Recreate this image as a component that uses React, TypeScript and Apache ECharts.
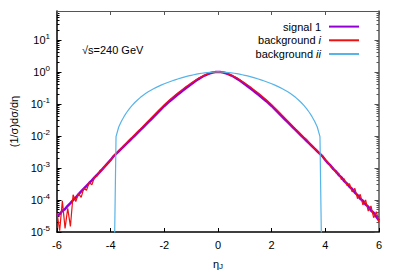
import React, { useEffect, useRef } from "react";
import * as echarts from "echarts";

const ETA = [
  -6.0, -5.9, -5.8, -5.7, -5.6, -5.5, -5.4, -5.3, -5.2, -5.1, -5.0, -4.9, -4.8, -4.7, -4.6, -4.5, -4.4, -4.3, -4.2, -4.1,
  -4.0, -3.9, -3.8, -3.7, -3.6, -3.5, -3.4, -3.3, -3.2, -3.1, -3.0, -2.9, -2.8, -2.7, -2.6, -2.5, -2.4, -2.3, -2.2, -2.1,
  -2.0, -1.9, -1.8, -1.7, -1.6, -1.5, -1.4, -1.3, -1.2, -1.1, -1.0, -0.9, -0.8, -0.7, -0.6, -0.5, -0.4, -0.3, -0.2, -0.1,
  0.0, 0.1, 0.2, 0.3, 0.4, 0.5, 0.6, 0.7, 0.8, 0.9, 1.0, 1.1, 1.2, 1.3, 1.4, 1.5, 1.6, 1.7, 1.8, 1.9,
  2.0, 2.1, 2.2, 2.3, 2.4, 2.5, 2.6, 2.7, 2.8, 2.9, 3.0, 3.1, 3.2, 3.3, 3.4, 3.5, 3.6, 3.7, 3.8, 3.9,
  4.0, 4.1, 4.2, 4.3, 4.4, 4.5, 4.6, 4.7, 4.8, 4.9, 5.0, 5.1, 5.2, 5.3, 5.4, 5.5, 5.6, 5.7, 5.8, 5.9, 6.0,
];

// signal 1
const SIGNAL = [
  3.2e-5, 3.6e-5, 4.6e-5, 5.2e-5, 6.6e-5, 8.0e-5, 1.0e-4, 1.2e-4, 1.5e-4, 1.85e-4, 2.25e-4, 2.75e-4, 3.4e-4, 4.1e-4, 5.1e-4, 6.2e-4, 7.6e-4, 9.4e-4, 1.16e-3, 1.44e-3,
  1.78e-3, 0.00229, 0.00276, 0.00333, 0.00402, 0.00485, 0.00586, 0.00708, 0.00856, 0.0103, 0.0124, 0.0151, 0.0183, 0.0222, 0.0269, 0.0326, 0.0397, 0.0482, 0.0585, 0.0712,
  0.0865, 0.103, 0.122, 0.143, 0.168, 0.197, 0.229, 0.266, 0.309, 0.357, 0.413, 0.476, 0.548, 0.62, 0.695, 0.772, 0.842, 0.905, 0.955, 0.987,
  1.0, 0.987, 0.955, 0.905, 0.842, 0.772, 0.695, 0.62, 0.548, 0.476, 0.413, 0.357, 0.309, 0.266, 0.229, 0.197, 0.168, 0.143, 0.122, 0.103,
  0.0865, 0.0712, 0.0585, 0.0482, 0.0397, 0.0326, 0.0269, 0.0222, 0.0183, 0.0151, 0.0124, 0.0103, 0.00856, 0.00708, 0.00586, 0.00485, 0.00402, 0.00333, 0.00276, 0.00229,
  1.78e-3, 1.42e-3, 1.18e-3, 9.2e-4, 7.8e-4, 6.0e-4, 5.1e-4, 3.9e-4, 3.3e-4, 2.6e-4, 2.2e-4, 1.7e-4, 1.42e-4, 1.1e-4, 9.5e-5, 7.2e-5, 6.2e-5, 4.7e-5, 4.0e-5, 3.0e-5, 2.3e-5,
];

// background i
const BKG_I = [
  4.0e-5, 1.1e-5, 9.5e-5, 1.3e-5, 5.5e-5, 1.5e-5, 1.45e-4, 9.0e-5, 1.6e-4, 1.2e-4, 2.3e-4, 2.0e-4, 3.5e-4, 3.0e-4, 5.2e-4, 5.6e-4, 8.4e-4, 8.8e-4, 1.2e-3, 1.4e-3,
  1.8e-3, 0.00232, 0.00282, 0.00343, 0.00412, 0.00507, 0.00617, 0.0077, 0.00912, 0.0111, 0.0135, 0.0164, 0.02, 0.0243, 0.0295, 0.0359, 0.0437, 0.0531, 0.0646, 0.0785,
  0.0955, 0.1135, 0.135, 0.158, 0.186, 0.219, 0.254, 0.295, 0.343, 0.394, 0.452, 0.513, 0.582, 0.653, 0.724, 0.794, 0.855, 0.912, 0.959, 0.989,
  1.0, 0.989, 0.959, 0.912, 0.855, 0.794, 0.724, 0.653, 0.582, 0.513, 0.452, 0.394, 0.343, 0.295, 0.254, 0.219, 0.186, 0.158, 0.135, 0.1135,
  0.0955, 0.0785, 0.0646, 0.0531, 0.0437, 0.0359, 0.0295, 0.0243, 0.02, 0.0164, 0.0135, 0.0111, 0.00912, 0.0078, 0.00617, 0.00507, 0.0040, 0.00343, 0.00282, 0.00232,
  1.8e-3, 1.5e-3, 1.1e-3, 1.0e-3, 7.0e-4, 6.8e-4, 4.4e-4, 4.6e-4, 2.9e-4, 3.2e-4, 1.8e-4, 2.3e-4, 1.1e-4, 1.5e-4, 7.0e-5, 1.0e-4, 4.5e-5, 6.5e-5, 2.8e-5, 4.3e-5, 2.0e-5,
];

// background ii (empty bins beyond |eta| ~ 3.85 drawn at 1e-8, below the axis)
const BKG_II = [
  1e-8, 1e-8, 1e-8, 1e-8, 1e-8, 1e-8, 1e-8, 1e-8, 1e-8, 1e-8, 1e-8, 1e-8, 1e-8, 1e-8, 1e-8, 1e-8, 1e-8, 1e-8, 1e-8, 1e-8,
  1e-8, 1e-8, 0.0095, 0.019, 0.0288, 0.0407, 0.055, 0.0716, 0.0902, 0.111, 0.133, 0.158, 0.184, 0.211, 0.24, 0.269, 0.299, 0.33, 0.361, 0.394,
  0.427, 0.46, 0.495, 0.531, 0.566, 0.603, 0.638, 0.676, 0.713, 0.75, 0.785, 0.818, 0.851, 0.881, 0.908, 0.933, 0.955, 0.973, 0.986, 0.995,
  1.0, 0.995, 0.986, 0.973, 0.955, 0.933, 0.908, 0.881, 0.851, 0.818, 0.785, 0.75, 0.713, 0.676, 0.638, 0.603, 0.566, 0.531, 0.495, 0.46,
  0.427, 0.394, 0.361, 0.33, 0.299, 0.269, 0.24, 0.211, 0.184, 0.158, 0.133, 0.111, 0.0902, 0.0716, 0.055, 0.0407, 0.0288, 0.019, 0.0095, 1e-8,
  1e-8, 1e-8, 1e-8, 1e-8, 1e-8, 1e-8, 1e-8, 1e-8, 1e-8, 1e-8, 1e-8, 1e-8, 1e-8, 1e-8, 1e-8, 1e-8, 1e-8, 1e-8, 1e-8, 1e-8, 1e-8,
];

const X_MIN = -6;
const X_MAX = 6;
const X_STEP = 2;
const Y_MIN = 1e-5;
const Y_MAX = 80;
const Y_MAJOR = [1e-5, 1e-4, 1e-3, 1e-2, 1e-1, 1, 10];
const Y_MINOR_MANTISSA = [2, 3, 4, 5, 6, 7, 8, 9];

const SERIES_NAMES = ["signal 1", "background i", "background ii"];
const COLORS = ["#9400d3", "#ee1111", "#56b4e9"];

const FONT = "'Liberation Sans', Arial, sans-serif";

function pairs(ys: number[]) {
  return ETA.map((x, i) => [x, ys[i]]);
}

function powLabel(v: number) {
  const e = Math.round(Math.log10(v));
  if (Math.abs(v - Math.pow(10, e)) > 1e-6 * v) return "";
  return `{b|10}{s|${e}}`;
}

export default function App() {
  const ref = useRef<HTMLDivElement>(null);
  useEffect(() => {
    if (!ref.current) return;
    document.body.style.margin = "0";
    const chart = echarts.init(ref.current, undefined, { renderer: "svg" });
    const minorValues: number[] = [];
    Y_MAJOR.forEach((m) => {
      Y_MINOR_MANTISSA.forEach((k) => {
        const v = m * k;
        if (v < Y_MAX) minorValues.push(v);
      });
    });
    const richLabel = {
      b: { fontSize: 11, color: "#000", fontFamily: FONT },
      s: { fontSize: 8, color: "#000", fontFamily: FONT, padding: [0, 0, 7, 0] },
    };
    const yBase = {
      type: "log",
      logBase: 10,
      min: Y_MIN,
      max: Y_MAX,
      splitLine: { show: false },
      minorSplitLine: { show: false },
      minorTick: { show: false },
    };
    const xCommon = {
      type: "value",
      min: X_MIN,
      max: X_MAX,
      interval: X_STEP,
      splitLine: { show: false },
    };
    const minorAxis = (pos: string, color: string) => ({
      ...yBase,
      position: pos,
      axisLine: { show: false, onZero: false },
      axisTick: { show: true, inside: true, length: 2.5, customValues: minorValues, lineStyle: { color } },
      axisLabel: { show: false },
    });
    const data = [SIGNAL, BKG_I, BKG_II];
    chart.setOption({
      animation: false,
      textStyle: { fontFamily: FONT },
      grid: { left: 55, right: 20, top: 11, bottom: 47 },
      xAxis: [
        {
          ...xCommon,
          position: "bottom",
          axisLine: { onZero: false, lineStyle: { color: "#000", width: 1.5 } },
          axisTick: { inside: true, length: 4, lineStyle: { color: "#000" } },
          axisLabel: { color: "#000", fontSize: 11, margin: 7, fontFamily: FONT },
          name: "{a|η}{s|J}",
          nameLocation: "middle",
          nameGap: 26,
          nameTextStyle: {
            rich: {
              a: { fontSize: 11, color: "#000", fontFamily: FONT },
              s: { fontSize: 8, color: "#000", fontFamily: FONT, padding: [4, 0, 0, 0] },
            },
          },
        },
        {
          ...xCommon,
          position: "top",
          axisLine: { onZero: false, lineStyle: { color: "#555", width: 1 } },
          axisTick: { inside: true, length: 4, lineStyle: { color: "#555" } },
          axisLabel: { show: false },
        },
      ],
      yAxis: [
        {
          ...yBase,
          position: "left",
          axisLine: { show: true, onZero: false, lineStyle: { color: "#000", width: 1.5 } },
          axisTick: { show: true, inside: true, length: 4.5, customValues: Y_MAJOR, lineStyle: { color: "#000" } },
          axisLabel: {
            color: "#000",
            margin: 7,
            customValues: Y_MAJOR,
            formatter: powLabel,
            rich: richLabel,
          },
          name: "(1/σ)dσ/dη",
          nameLocation: "middle",
          nameRotate: 90,
          nameGap: 38,
          nameTextStyle: { color: "#000", fontSize: 11, fontFamily: FONT },
        },
        minorAxis("left", "#000"),
        {
          ...yBase,
          position: "right",
          axisLine: { show: true, onZero: false, lineStyle: { color: "#555", width: 1.5 } },
          axisTick: { show: true, inside: true, length: 4.5, customValues: Y_MAJOR, lineStyle: { color: "#555" } },
          axisLabel: { show: false },
        },
        minorAxis("right", "#555"),
      ],
      legend: {
        orient: "vertical",
        right: 34,
        top: 16,
        align: "right",
        itemWidth: 30,
        itemHeight: 14,
        itemGap: 2.5,
        data: SERIES_NAMES,
        itemStyle: { opacity: 0 },
        textStyle: {
          color: "#000",
          fontSize: 11,
          fontFamily: FONT,
          padding: [0, 3, 0, 0],
          rich: { it: { fontStyle: "italic", fontSize: 11, color: "#000", fontFamily: FONT } },
        },
        formatter: (name: string) => name.replace(/ (i+)$/, " {it|$1}"),
      },
      graphic: [
        {
          type: "text",
          left: 82,
          top: 44,
          style: { text: "√s=240 GeV", fontSize: 11, fill: "#000", fontFamily: FONT },
        },
      ],
      series: SERIES_NAMES.map((name, i) => ({
        name,
        type: "line",
        xAxisIndex: 0,
        yAxisIndex: 0,
        symbol: "none",
        data: pairs(data[i]),
        lineStyle: { color: COLORS[i], width: i === 0 ? 2.5 : 1.2 },
        itemStyle: { color: COLORS[i] },
        z: i === 0 ? 2 : 3,
      })),
    });
    return () => chart.dispose();
  }, []);
  return <div ref={ref} style={{ width: 399, height: 279 }} />;
}
